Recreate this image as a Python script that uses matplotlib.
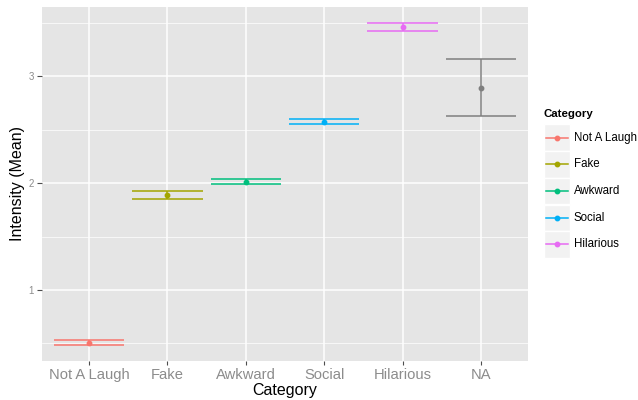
import matplotlib
matplotlib.use("Agg")
import matplotlib.pyplot as plt
from matplotlib.patches import Rectangle
from matplotlib.lines import Line2D

plt.rcParams['font.family'] = ['Liberation Sans', 'DejaVu Sans']

# data
categories = ["Not A Laugh", "Fake", "Awkward", "Social", "Hilarious", "NA"]
means = [0.508, 1.89, 2.015, 2.576, 3.458, 2.893]
upper = [0.530, 1.93, 2.043, 2.600, 3.495, 3.160]
lower = [0.486, 1.85, 1.990, 2.553, 3.420, 2.630]
colors = ["#F8766D", "#A3A500", "#00BF7D", "#00B0F6", "#E76BF3", "#7F7F7F"]

W, H = 638, 400
fig = plt.figure(figsize=(W / 100, H / 100), dpi=100)

# panel in pixel terms
left, right, top, bottom = 42, 528, 7, 360.7
ax = fig.add_axes([left / W, 1 - bottom / H, (right - left) / W, (bottom - top) / H])
ax.set_facecolor("#E5E5E5")
for s in ax.spines.values():
    s.set_visible(False)

xs = list(range(1, len(categories) + 1))
ax.set_xlim(0.4, 6.6)
ax.set_ylim(0.339, 3.648)

ax.set_yticks([1, 2, 3])
ax.set_yticks([0.5, 1.5, 2.5, 3.5], minor=True)
ax.set_xticks(xs)
ax.set_xticklabels(categories)
ax.grid(which="major", color="white", lw=1.1)
ax.grid(which="minor", axis="y", color="white", lw=0.5)
ax.set_axisbelow(True)
ax.tick_params(axis="x", which="major", length=3, width=0.8, color="#4D4D4D",
               labelsize=10.6, labelcolor="#8C8C8C", pad=2)
ax.tick_params(axis="y", which="major", length=3.5, width=0.8, color="#4D4D4D",
               labelsize=7, labelcolor="#8C8C8C", pad=2.5)
ax.tick_params(axis="y", which="minor", length=0)

for x, m, lo, hi, c in zip(xs, means, lower, upper, colors):
    ax.vlines(x, lo, hi, color=c, lw=1.1, zorder=3)
    ax.hlines([lo, hi], x - 0.45, x + 0.45, color=c, lw=1.1, zorder=3)
    ax.plot([x], [m], "o", color=c, ms=3.2, zorder=4)

ax.set_xlabel("Category", fontsize=11.5, va="center")
ax.set_ylabel("Intensity (Mean)", fontsize=11.5, va="center")
ax.xaxis.set_label_coords(0.5, (bottom - 391) / (bottom - top))
ax.yaxis.set_label_coords((18 - left) / (right - left), 0.5)

# legend drawn like ggplot keys
fig.text(544 / W, 1 - 114 / H, "Category", fontsize=8.2, fontweight="bold",
         ha="left", va="center")
for i, (name, c) in enumerate(zip(categories[:5], colors[:5])):
    cy = 137.7 + i * 26.7
    fig.patches.append(Rectangle((544 / W, 1 - (cy + 13.3) / H), 26 / W, 26.6 / H,
                                 transform=fig.transFigure, facecolor="#F2F2F2",
                                 edgecolor="white", lw=1))
    fig.lines.append(Line2D([546 / W, 568 / W], [1 - cy / H] * 2, transform=fig.transFigure,
                            color=c, lw=1.1))
    fig.lines.append(Line2D([557 / W], [1 - cy / H], transform=fig.transFigure,
                            color=c, marker="o", ms=3.2))
    fig.text(574 / W, 1 - cy / H, name, fontsize=8.3, ha="left", va="center")

fig.savefig("out.png", dpi=100)
